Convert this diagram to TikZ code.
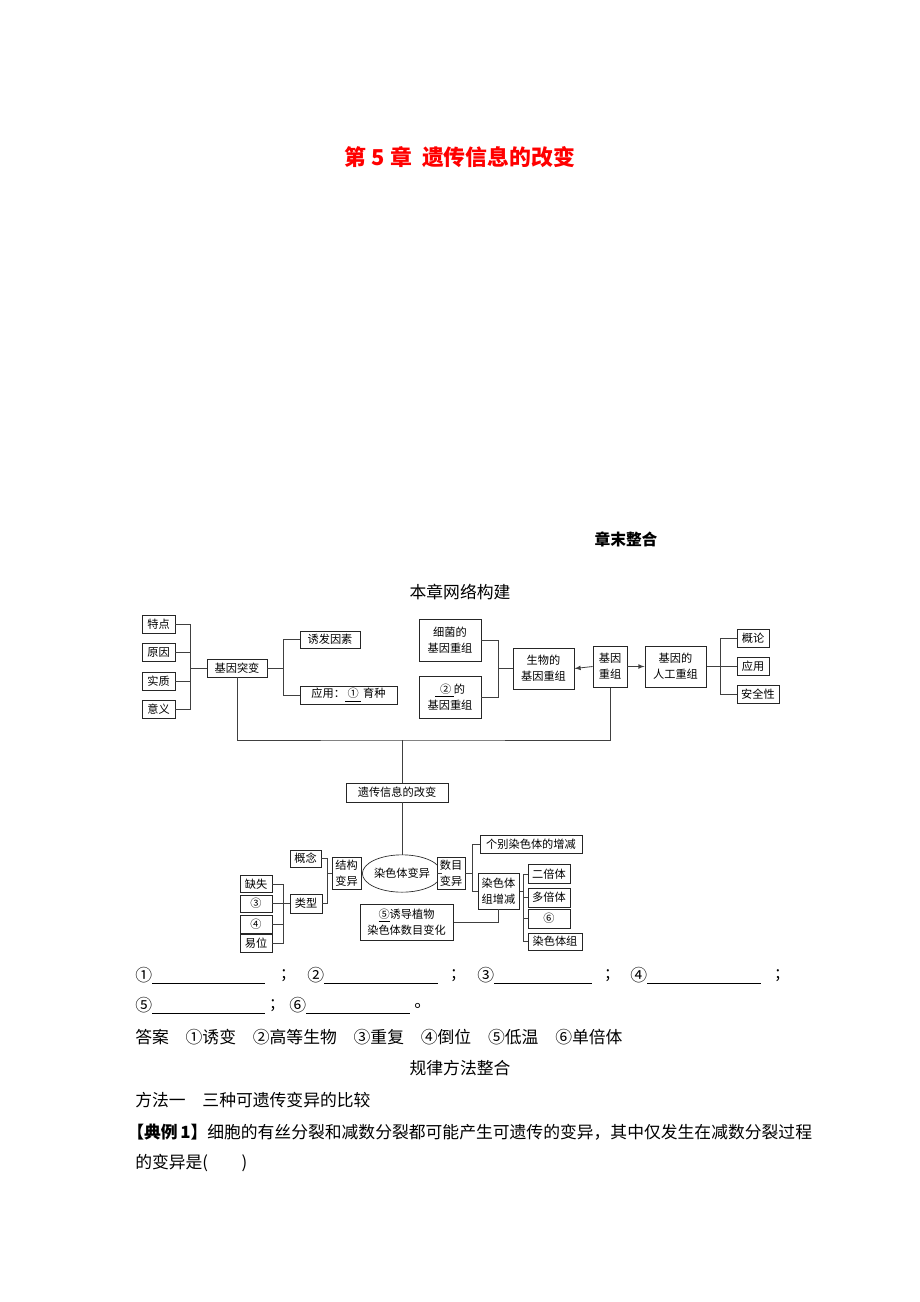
\documentclass[tikz,border=0pt]{standalone}
\usepackage{fontspec}
\setmainfont{Noto Sans CJK SC}
\usepackage{xcolor}
\usepackage{tikz}
\usetikzlibrary{positioning}
\usetikzlibrary{shadows}
\usetikzlibrary{shapes.geometric}

\newcommand{\diagfont}{\fontsize{8.4pt}{12pt}\selectfont}
\newcommand{\bodyfont}{\fontsize{12.6pt}{16pt}\selectfont}
\newcommand{\titlefont}{\fontsize{16.4pt}{20pt}\selectfont\bfseries}

\begin{document}
\begin{tikzpicture}[
      x=0.75pt, y=-0.75pt,
      type-box/.style={rectangle, draw=black!85, fill=white, line width=0.5pt, inner sep=0pt, align=center, font=\diagfont,
        drop shadow={shadow xshift=0.7pt, shadow yshift=-0.7pt, fill=black!30}},
      type-leaf/.style={type-box, minimum width=24.75pt, minimum height=13.5pt},
      type-pair/.style={type-box, minimum width=46pt, minimum height=31pt},
      type-oval/.style={ellipse, draw=black!85, fill=white, line width=0.5pt, inner sep=0pt, minimum width=46pt, minimum height=28pt, font=\diagfont},
      type-text/.style={inner sep=0pt, font=\bodyfont, anchor=west},
      link/.style={draw=black!75, line width=0.6pt}
    ]
      \useasboundingbox[fill=white] (0,0) rectangle (920,1302);

      % headings
      \node[font=\titlefont, text=red] (title) at (460,157) {第 5 章\ \ 遗传信息的改变};
      \node[font=\fontsize{11.8pt}{14pt}\selectfont\bfseries] (zhangmo) at (626,539) {章末整合};
      \node[font=\bodyfont] (wangluo) at (460,592) {本章网络构建};

      % upper part
      \node[type-leaf] (tedian) at (158.5,624.5) {特点};
      \node[type-leaf] (yuanyin) at (158.5,652.5) {原因};
      \node[type-leaf] (shizhi) at (158.5,681) {实质};
      \node[type-leaf] (yiyi) at (158.5,709.5) {意义};
      \node[type-box, minimum width=45pt, minimum height=13.5pt] (tubian) at (237,668) {基因突变};
      \node[type-box, minimum width=45pt, minimum height=13pt] (youfa) at (330,639.5) {诱发因素};
      \node[type-box, minimum width=72.75pt, minimum height=13.5pt] (yingyong) at (348.5,695) {应用：\underline{\ ①\ }\,育种};
      \node[type-pair, minimum width=46.5pt, minimum height=31.5pt] (xijun) at (450,640) {细菌的\\基因重组};
      \node[type-pair, minimum width=46.5pt, minimum height=31.5pt] (gaodeng) at (450,697) {\underline{\ \ ②\ }的\\基因重组};
      \node[type-pair] (shengwu) at (543.5,668.5) {生物的\\基因重组};
      \node[type-pair, minimum width=25.5pt] (chongzu) at (610,666.5) {基因\\重组};
      \node[type-pair] (rengong) at (675.5,666.5) {基因的\\人工重组};
      \node[type-leaf, minimum width=24pt] (gailun) at (753,638) {概论};
      \node[type-leaf, minimum width=24pt] (yingyong-b) at (753,666) {应用};
      \node[type-leaf, minimum width=31.5pt] (anquan) at (758,694) {安全性};

      \coordinate (b-tubian-l) at (190,668);
      \foreach \n in {tedian,yuanyin,shizhi,yiyi}
        \draw[link] (\n.east) -| (b-tubian-l);
      \draw[link] (b-tubian-l) -- (tubian.west);
      \coordinate (b-tubian-r) at (283,668);
      \draw[link] (tubian.east) -- (b-tubian-r);
      \foreach \n in {youfa,yingyong}
        \draw[link] (b-tubian-r) |- (\n.west);
      \coordinate (b-shengwu) at (498,668.5);
      \foreach \n in {xijun,gaodeng}
        \draw[link] (\n.east) -| (b-shengwu);
      \draw[link] (b-shengwu) -- (shengwu.west);
      \draw[link,-latex] (chongzu.west) -- (shengwu.east);
      \draw[link,-latex] (chongzu.east) -- (rengong.west);
      \coordinate (b-rengong) at (720,666.5);
      \draw[link] (rengong.east) -- (b-rengong);
      \foreach \n in {gailun,yingyong-b,anquan}
        \draw[link] (b-rengong) |- (\n.west);

      % centre
      \node[type-box, minimum width=76.5pt, minimum height=14pt] (gaibian) at (397,792.5) {遗传信息的改变};
      \node[type-oval] (ranse) at (402,873.5) {染色体变异};
      \coordinate (bus) at (402,740);
      \draw[link] (tubian.south) |- (bus) -| (chongzu.south);
      \draw[link] (bus) -- (bus |- gaibian.north);
      \draw[link] (bus |- gaibian.south) -- (ranse.north);

      % lower part
      \node[type-box, minimum width=22pt, minimum height=24pt] (jiegou) at (346.5,873.5) {结构\\变异};
      \node[type-leaf, minimum width=23pt, minimum height=13pt] (gainian) at (305.5,858.5) {概念};
      \node[type-leaf, minimum width=24pt, minimum height=14pt] (leixing) at (306,903.5) {类型};
      \node[type-leaf, minimum width=24pt, minimum height=12.5pt] (queshi) at (256,884) {缺失};
      \node[type-leaf, minimum width=24pt, minimum height=13pt] (chongfu) at (256,903.5) {③};
      \node[type-leaf, minimum width=24pt] (daowei) at (256,924) {④};
      \node[type-leaf, minimum width=24pt] (yiwei) at (256,943) {易位};
      \node[type-box, minimum width=21pt, minimum height=24pt] (shumu) at (451,873.5) {数目\\变异};
      \node[type-box, minimum width=76.5pt, minimum height=13.5pt] (gebie) at (531,844) {个别染色体的增减};
      \node[type-box, minimum width=31pt, minimum height=27pt] (zuzeng) at (498.5,891) {染色体\\组增减};
      \node[type-leaf, minimum width=31.5pt, minimum height=14pt] (erbei) at (549,874) {二倍体};
      \node[type-leaf, minimum width=31.5pt, minimum height=14pt] (duobei) at (549,897.5) {多倍体};
      \node[type-leaf, minimum width=31.5pt, minimum height=14pt] (danbei) at (549,918.5) {⑥};
      \node[type-leaf, minimum width=40.5pt, minimum height=13pt] (zu) at (555,941.5) {染色体组};
      \node[type-box, minimum width=70pt, minimum height=27pt] (youdao) at (406.5,922) {\underline{⑤}诱导植物\\染色体数目变化};

      \draw[link] (ranse.west) -- (jiegou.east);
      \coordinate (b-jiegou) at (327,873.5);
      \draw[link] (jiegou.west) -- (b-jiegou);
      \foreach \n in {gainian,leixing}
        \draw[link] (b-jiegou) |- (\n.east);
      \coordinate (b-leixing) at (283,903.5);
      \draw[link] (leixing.west) -- (b-leixing);
      \foreach \n in {queshi,chongfu,daowei,yiwei}
        \draw[link] (b-leixing) |- (\n.east);
      \draw[link] (ranse.east) -- (shumu.west);
      \coordinate (b-shumu) at (472,873.5);
      \draw[link] (shumu.east) -- (b-shumu);
      \foreach \n in {gebie,zuzeng}
        \draw[link] (b-shumu) |- (\n.west);
      \coordinate (b-zuzeng) at (523,891);
      \draw[link] (zuzeng.east) -- (b-zuzeng);
      \foreach \n in {erbei,duobei,danbei,zu}
        \draw[link] (b-zuzeng) |- (\n.west);
      \draw[link] (youdao.east) -| (zuzeng.south);

      % fill-in lines and answers
      \foreach \k/\x/\w/\s [count=\i] in {①/135/84.75pt/284, ②/307/85.5pt/454, ③/477/73.5pt/608, ④/630/85.5pt/778}{
        \node[type-text] (fill\i) at (\x,976) {\k\underline{\hspace{\w}}};
        \node[font=\bodyfont] (semi\i) at (\s,976) {;};
      }
      \node[type-text] (fill5) at (135,1006) {⑤\underline{\hspace{84.75pt}}};
      \node[font=\bodyfont] (semi5) at (273,1006) {;};
      \node[type-text] (fill6) at (289,1006) {⑥\underline{\hspace{78pt}}};
      \node[type-text] (stop6) at (414,1006) {。};
      \node[type-text] (daan) at (135,1037) {答案\quad ①诱变\quad ②高等生物\quad ③重复\quad ④倒位\quad ⑤低温\quad ⑥单倍体};
      \node[font=\bodyfont] (guilv) at (460,1068) {规律方法整合};
      \node[type-text] (fangfa) at (135,1100) {方法一\quad 三种可遗传变异的比较};
      \node[type-text, font=\bodyfont\bfseries] (dianli) at (127,1132) {【典例\,1】};
      \node[type-text] (tigan) at (207,1132) {细胞的有丝分裂和减数分裂都可能产生可遗传的变异，其中仅发生在减数分裂过程};
      \node[type-text] (tigan-b) at (135,1163) {的变异是(\hspace{2em})};
    \end{tikzpicture}
\end{document}
